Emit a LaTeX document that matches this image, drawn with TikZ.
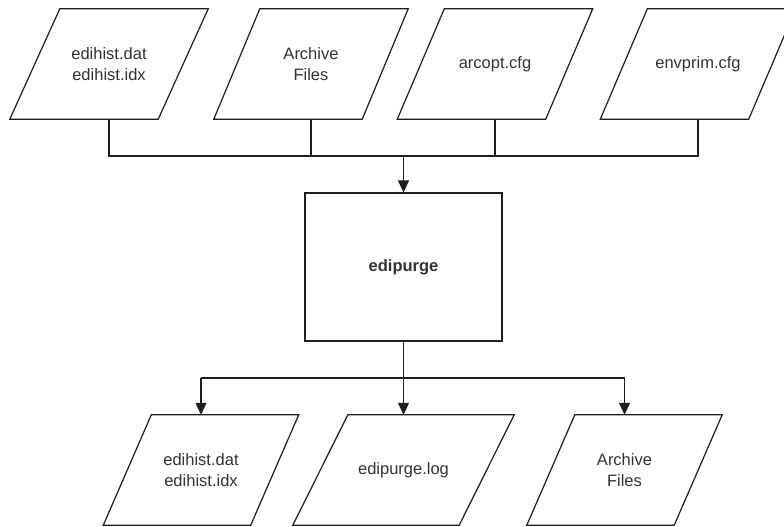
\documentclass[tikz,border=0pt]{standalone}
\usepackage{fontspec}
\setmainfont{Liberation Sans}
\usetikzlibrary{arrows.meta}
\definecolor{ink}{HTML}{1E1E1E}
\definecolor{txt}{HTML}{333333}
\tikzset{
  shapebox/.style={minimum height=110pt, inner sep=0pt, align=center,
    font=\fontsize{16.5}{21}\selectfont, text=txt},
  mainbox/.style={draw=ink, line width=1.2pt, minimum width=197pt, minimum height=148pt,
    inner sep=0pt, font=\fontsize{16.5}{21}\selectfont\bfseries, text=txt},
  wire/.style={draw=ink, line width=1.2pt},
  arr/.style={wire, -{Triangle[width=11pt,length=12pt]}},
}
% parallelogram outline around a node: #1 name, #2 slant
\newcommand{\paraoutline}[2]{%
  \draw[wire] ([xshift=-#2/2]#1.south west) -- ([xshift=-#2/2]#1.south east)
    -- ([xshift=#2/2]#1.north east) -- ([xshift=#2/2]#1.north west) -- cycle;}
\begin{document}
\begin{tikzpicture}[x=1pt, y=-1pt]
\useasboundingbox[fill=white] (0,0) rectangle (784,527);
% inputs
\node[shapebox, minimum width=148pt] (p1) at (109,64) {edihist.dat\\edihist.idx};
\node[shapebox, minimum width=148pt] (p2) at (311,64) {Archive\\Files};
\node[shapebox, minimum width=148pt] (p3) at (495,64) {arcopt.cfg};
\node[shapebox, minimum width=148pt] (p4) at (698,64) {envprim.cfg};
\paraoutline{p1}{50pt}
\paraoutline{p2}{46pt}
\paraoutline{p3}{47pt}
\paraoutline{p4}{47pt}
% main program
\node[mainbox] (main) at (403.5,267) {edipurge};
% outputs
\node[shapebox, minimum width=147pt] (b1) at (201,470) {edihist.dat\\edihist.idx};
\node[shapebox, minimum width=166pt] (b2) at (403.5,470) {edipurge.log};
\node[shapebox, minimum width=147pt] (b3) at (624.5,470) {Archive\\Files};
\paraoutline{b1}{48pt}
\paraoutline{b2}{55pt}
\paraoutline{b3}{48pt}
% junctions
\coordinate (jt) at (403.5,156);
\coordinate (jb) at (403.5,378);
% input wiring
\draw[wire] (p1.south) -- (p1.south |- jt) -- (p4.south |- jt) -- (p4.south);
\draw[wire] (p2.south) -- (p2.south |- jt);
\draw[wire] (p3.south) -- (p3.south |- jt);
\draw[arr] (jt) -- (main.north);
% output wiring
\draw[wire] (main.south) -- (jb);
\draw[wire] (jb -| b1.north) -- (jb -| b3.north);
\draw[arr] (jb -| b1.north) -- (b1.north);
\draw[arr] (jb) -- (b2.north);
\draw[arr] (jb -| b3.north) -- (b3.north);
\end{tikzpicture}
\end{document}
